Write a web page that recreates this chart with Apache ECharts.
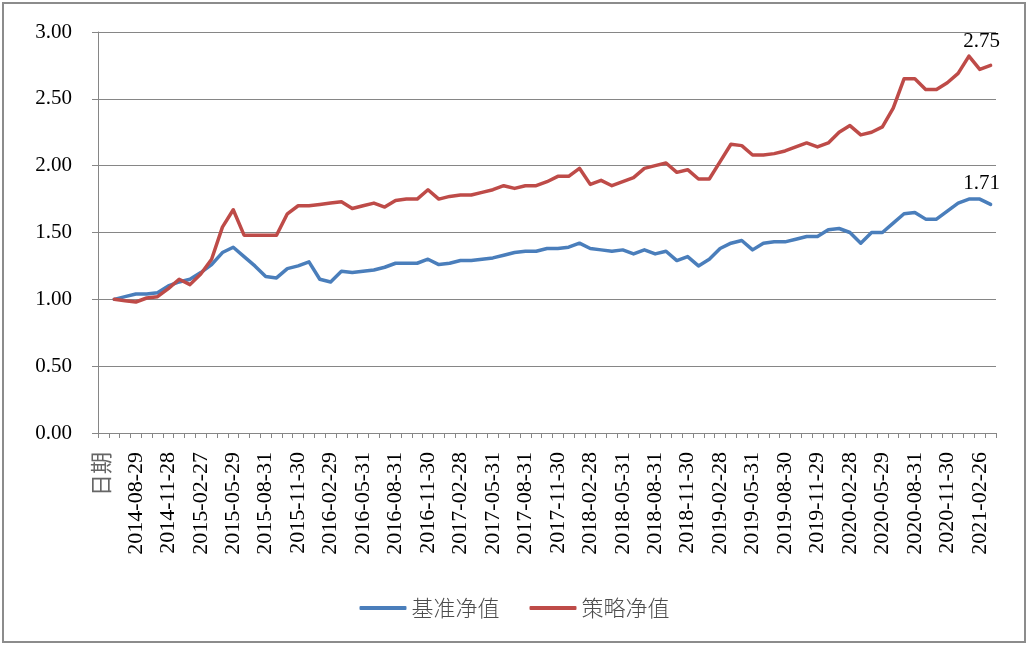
<!DOCTYPE html>
<html>
<head>
<meta charset="utf-8">
<script src="https://cdn.jsdelivr.net/npm/echarts@6/dist/echarts.min.js"></script>
<style>
  html, body { margin: 0; padding: 0; background: #fff; }
  #wrap { position: absolute; left: 0; top: 0; width: 1029px; height: 645px; }
  #chart { position: absolute; left: 0; top: 0; width: 1029px; height: 645px; }
  #frame { position: absolute; left: 2px; top: 2px; width: 1024px; height: 641px; box-sizing: border-box; border: 2px solid #8c8c8c; pointer-events: none; }
</style>
</head>
<body>
<div id="wrap"><div id="chart"></div><div id="frame"></div></div>
<script>
const headerLabel = '日期';
const dates = [
  '2014-06-30','2014-07-31','2014-08-29','2014-09-30','2014-10-31','2014-11-28','2014-12-31',
  '2015-01-30','2015-02-27','2015-03-31','2015-04-30','2015-05-29','2015-06-30','2015-07-31','2015-08-31','2015-09-30','2015-10-30','2015-11-30','2015-12-31',
  '2016-01-29','2016-02-29','2016-03-31','2016-04-29','2016-05-31','2016-06-30','2016-07-29','2016-08-31','2016-09-30','2016-10-31','2016-11-30','2016-12-30',
  '2017-01-26','2017-02-28','2017-03-31','2017-04-28','2017-05-31','2017-06-30','2017-07-31','2017-08-31','2017-09-29','2017-10-31','2017-11-30','2017-12-29',
  '2018-01-31','2018-02-28','2018-03-30','2018-04-27','2018-05-31','2018-06-29','2018-07-31','2018-08-31','2018-09-28','2018-10-31','2018-11-30','2018-12-28',
  '2019-01-31','2019-02-28','2019-03-29','2019-04-30','2019-05-31','2019-06-28','2019-07-31','2019-08-30','2019-09-30','2019-10-31','2019-11-29','2019-12-31',
  '2020-01-23','2020-02-28','2020-03-31','2020-04-30','2020-05-29','2020-06-30','2020-07-31','2020-08-31','2020-09-30','2020-10-30','2020-11-30','2020-12-31',
  '2021-01-29','2021-02-26','2021-03-31'
];
const benchmarkName = '基准净值';
const strategyName = '策略净值';
const benchmark = [
  1.00,1.02,1.04,1.04,1.05,1.10,1.13,1.15,1.20,1.26,
  1.35,1.39,1.32,1.25,1.17,1.16,1.23,1.25,1.28,1.15,
  1.13,1.21,1.20,1.21,1.22,1.24,1.27,1.27,1.27,1.30,
  1.26,1.27,1.29,1.29,1.30,1.31,1.33,1.35,1.36,1.36,
  1.38,1.38,1.39,1.42,1.38,1.37,1.36,1.37,1.34,1.37,
  1.34,1.36,1.29,1.32,1.25,1.30,1.38,1.42,1.44,1.37,
  1.42,1.43,1.43,1.45,1.47,1.47,1.52,1.53,1.50,1.42,
  1.50,1.50,1.57,1.64,1.65,1.60,1.60,1.66,1.72,1.75,
  1.75,1.71
];
const strategy = [
  1.00,0.99,0.98,1.01,1.02,1.08,1.15,1.11,1.19,1.30,
  1.54,1.67,1.48,1.48,1.48,1.48,1.64,1.70,1.70,1.71,
  1.72,1.73,1.68,1.70,1.72,1.69,1.74,1.75,1.75,1.82,
  1.75,1.77,1.78,1.78,1.80,1.82,1.85,1.83,1.85,1.85,
  1.88,1.92,1.92,1.98,1.86,1.89,1.85,1.88,1.91,1.98,
  2.00,2.02,1.95,1.97,1.90,1.90,2.03,2.16,2.15,2.08,
  2.08,2.09,2.11,2.14,2.17,2.14,2.17,2.25,2.30,2.23,
  2.25,2.29,2.43,2.65,2.65,2.57,2.57,2.62,2.69,2.82,
  2.72,2.75
];
const yTicks = [0, 0.5, 1, 1.5, 2, 2.5, 3];

const categories = [headerLabel].concat(dates);
const serif = "'Liberation Serif', 'Times New Roman', 'Noto Sans CJK SC', serif";
const lastIdx = categories.length - 1;

function lastLabel(p) {
  return p.dataIndex === lastIdx ? Number(p.value).toFixed(2) : '';
}

function lineSeries(name, values, color, labelDistance) {
  return {
    name: name,
    type: 'line',
    data: [null].concat(values),
    symbol: 'circle',
    symbolSize: 0.01,
    showSymbol: true,
    showAllSymbol: true,
    smooth: false,
    color: color,
    itemStyle: { color: color },
    lineStyle: { color: color, width: 3.5, cap: 'round', join: 'round' },
    label: {
      show: true, position: 'top', distance: labelDistance,
      fontFamily: serif, fontSize: 21, color: '#000',
      formatter: lastLabel
    },
    labelLayout: { hideOverlap: false, dx: -9 },
    emphasis: { disabled: true }
  };
}

const chart = echarts.init(document.getElementById('chart'), null, { renderer: 'canvas' });
chart.setOption({
  animation: false,
  backgroundColor: '#fff',
  grid: { left: 98, right: 33, top: 32, bottom: 212, containLabel: false },
  legend: {
    bottom: 21,
    left: 'center',
    icon: 'roundRect',
    itemWidth: 47,
    itemHeight: 4,
    itemGap: 30,
    textStyle: { fontFamily: "'Noto Sans CJK SC', sans-serif", fontSize: 22, color: '#4d4d4d', fontWeight: 300 },
    data: [benchmarkName, strategyName]
  },
  xAxis: {
    type: 'category',
    boundaryGap: true,
    data: categories,
    axisLine: { lineStyle: { color: '#868686', width: 1 } },
    axisTick: { show: true, interval: 0, length: 5, lineStyle: { color: '#868686' } },
    axisLabel: {
      interval: 2,
      rotate: 90,
      margin: 19,
      fontFamily: serif,
      fontSize: 22,
      color: (v, i) => (i === 0 ? '#666' : '#000')
    },
    splitLine: { show: false }
  },
  yAxis: {
    type: 'value',
    min: yTicks[0],
    max: yTicks[yTicks.length - 1],
    interval: yTicks[1] - yTicks[0],
    axisLine: { show: true, lineStyle: { color: '#868686', width: 1 } },
    axisTick: { show: true, length: 6, lineStyle: { color: '#868686' } },
    axisLabel: {
      margin: 26,
      fontFamily: serif,
      fontSize: 21,
      color: '#000',
      formatter: v => v.toFixed(2)
    },
    splitLine: { show: true, lineStyle: { color: '#868686', width: 1 } }
  },
  series: [
    lineSeries(benchmarkName, benchmark, '#4A7EBB', 10),
    lineSeries(strategyName, strategy, '#BE4B48', 13)
  ]
});
</script>
</body>
</html>
